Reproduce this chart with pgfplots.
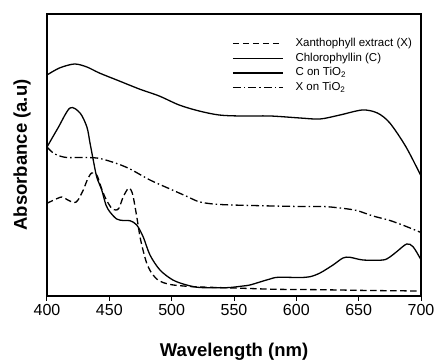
\documentclass[border=0pt]{standalone}
\usepackage{fontspec}
\setmainfont{Liberation Sans}
\usepackage{pgfplots}
\pgfplotsset{compat=1.18}
\begin{document}
\begin{tikzpicture}
\begin{axis}[
  scale only axis, width=374pt, height=282pt,
  xmin=400, xmax=700, ymin=0, ymax=282,
  xtick={400,450,500,550,600,650,700}, ytick=\empty,
  xtick pos=lower, tick align=outside, major tick length=5pt,
  axis line style={line width=1.2pt},
  every tick/.style={line width=1pt, black},
  tick label style={font=\fontsize{16}{16}\selectfont},
  /pgf/number format/assume math mode=true,
  /pgf/number format/1000 sep={},
  xlabel={Wavelength (nm)}, ylabel={Absorbance (a.u)},
  label style={font=\fontsize{18.5}{18.5}\selectfont\bfseries},
  xlabel style={at={(axis description cs:0.5,0)}, anchor=base, yshift=-60.7pt},
  ylabel style={at={(axis description cs:-0.0535,0.5)}, anchor=base, rotate=0},
  legend style={draw=none, fill=none, at={(axis description cs:0.4947,0.916)}, anchor=north west,
    font=\fontsize{11.5}{11.5}\selectfont, row sep=3.2pt, column sep=12pt, inner sep=0pt,
    nodes={inner sep=0pt, text height=8.5pt, text depth=3pt}},
  legend cell align=left,
  legend image code/.code={\draw[#1] (0pt,0pt) -- (50pt,0pt);},
]
\addplot[black, no markers, line width=1.3pt, smooth, tension=0.5, dash pattern=on 6.5pt off 3.5pt] coordinates {
(400,92.7)(405.6,96)(411.8,99)(416,96.5)(421.7,93.3)(424.9,96)(429.1,106)(432.3,116)(435.8,123)(439.9,121)(442.5,112)(445.2,102.7)(448.1,95)(451.9,87.7)(455.3,86)(457.8,88)(461.2,99.3)(465.2,107.7)(467.4,106)(469.2,99)(472,79.3)(474.6,59.3)(477,46)(480,32.7)(483.4,24)(488,17)(493,13.5)(501.3,11)(517.1,9.3)(530.7,8.7)(557.2,7.7)(584.2,6.7)(619,6.3)(659,5.5)(700,5)};
\addlegendentry{Xanthophyll extract (X)}
\addplot[black, no markers, line width=1.3pt, smooth, tension=0.5, solid] coordinates {
(400,149)(408.8,168)(418.4,188)(426.5,183)(432,169)(434.5,153)(437.1,136)(439.9,119)(443.9,106)(447.3,91)(450.5,84)(455.9,77)(461,75.5)(466.6,75.3)(472,71)(477.2,59)(482.6,41)(490.6,26)(501,16)(512,11)(522.7,8.5)(544.1,8.3)(557.2,10)(562.8,11)(570.8,14)(578.9,17)(585.3,18.7)(603,18.5)(611,19.3)(619,23)(629.4,31)(637.4,38)(643,38.7)(653.5,36)(669.5,36)(675,39)(680.5,44.3)(688.5,52)(693.6,49.3)(699.2,38)(700,36)};
\addlegendentry{Chlorophyllin (C)}
\addplot[black, no markers, line width=1.3pt, smooth, tension=0.5, solid] coordinates {
(400,221)(410,228)(422,232)(432,229)(442,223)(458,215)(474,207)(490,200)(506,191)(522,185)(538,181)(555,180)(579,180)(603,178)(619,177)(635,181)(653,186)(665,183)(675,173)(688,149)(700,120)};
\addlegendentry{C on TiO\textsubscript{2}}
\addplot[black, no markers, line width=1.3pt, smooth, tension=0.5, dash pattern=on 8pt off 3pt on 1.5pt off 3pt] coordinates {
(400,149)(404,144)(408,141)(415.8,138.5)(431.8,138.5)(442.5,137.5)(455.9,132.5)(466.6,127)(482.6,116)(498.7,107)(511.5,100)(522.7,94)(538.8,91.5)(570.8,90.3)(603,89.5)(621.4,89.5)(635,88)(648.4,85.5)(661.5,80)(675.1,75.5)(687.2,70)(700,63.5)};
\addlegendentry{X on TiO\textsubscript{2}}
\coordinate (sw) at (rel axis cs:0,0);
\coordinate (ne) at (rel axis cs:1,1);
\end{axis}
\path ([xshift=-47pt,yshift=-62pt]sw) rectangle ([xshift=17pt,yshift=14pt]ne);
\end{tikzpicture}
\end{document}
